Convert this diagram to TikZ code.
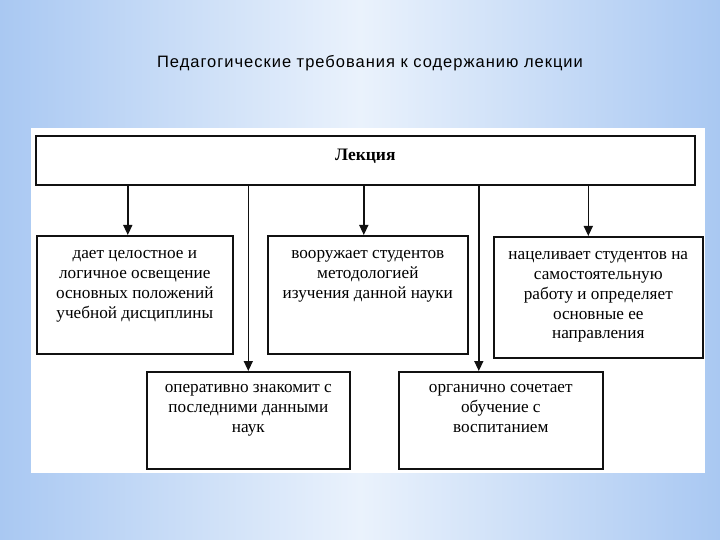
\documentclass[tikz,border=0pt]{standalone}
\usepackage{fontspec}
\setmainfont{Liberation Serif}
\newfontfamily\titlefont[LetterSpace=6]{Liberation Sans}
\usetikzlibrary{arrows.meta,positioning}
\definecolor{slideedge}{HTML}{A9C8F2}
\definecolor{slidemid}{HTML}{EAF2FC}
\definecolor{ink}{HTML}{111111}
\newcommand{\boxtext}[4][9bp]{\parbox[c][#3][t]{#2}{\centering\vspace*{#1}\strut#4}}
\tikzset{
    every picture/.style={line join=miter},
    mainbox/.style={draw=ink,fill=white,line width=1.6bp,inner sep=0pt,
      anchor=north west,font=\fontsize{17.5bp}{20bp}\selectfont\bfseries},
    reqbox/.style={draw=ink,fill=white,line width=1.6bp,inner sep=0pt,
      anchor=north west,font=\fontsize{17.2bp}{19.8bp}\selectfont},
    flowarrow/.style={-{Triangle[length=10bp,width=9bp]},draw=ink,
      line width=1.4bp},
    flowline/.style={draw=ink,line width=1.4bp}
}
\begin{document}
\begin{tikzpicture}[x=1bp,y=-1bp]
  \useasboundingbox (0,0) rectangle (720,540);
  % slide background
  \shade[left color=slideedge,right color=slideedge,middle color=slidemid]
    (0,0) rectangle (720,540);
  \node[font=\titlefont\fontsize{16.5bp}{19bp}\selectfont] (title) at (370,63)
    {Педагогические требования к содержанию лекции};
  \fill[white] (31,128) rectangle (705,473);

  % boxes
  \node[mainbox,minimum width=659bp,minimum height=49bp] (lecture) at (35,135)
    {\boxtext[11bp]{659bp}{49bp}{Лекция}};
  \node[reqbox,minimum width=196bp,minimum height=118bp] (whole) at (36,235)
    {\boxtext{196bp}{118bp}{дает целостное и\\логичное освещение\\основных положений\\учебной дисциплины}};
  \node[reqbox,minimum width=200bp,minimum height=118bp] (method) at (267,235)
    {\boxtext{200bp}{118bp}{вооружает студентов\\методологией\\изучения данной науки}};
  \node[reqbox,minimum width=209bp,minimum height=121bp] (selfwork) at (493,236)
    {\boxtext{209bp}{121bp}{нацеливает студентов на\\самостоятельную\\работу и определяет\\основные ее\\направления}};
  \node[reqbox,minimum width=203bp,minimum height=97bp] (newdata) at (146,371)
    {\boxtext[7bp]{203bp}{97bp}{оперативно знакомит с\\последними данными\\наук}};
  \node[reqbox,minimum width=204bp,minimum height=97bp] (upbring) at (398,371)
    {\boxtext[7bp]{204bp}{97bp}{органично сочетает\\обучение с\\воспитанием}};

  % connectors
  \draw[flowarrow] ([xshift=-7bp]whole.north |- lecture.south) -- ([xshift=-7bp]whole.north);
  \draw[flowarrow] ([xshift=-4bp]method.north |- lecture.south) -- ([xshift=-4bp]method.north);
  \draw[flowarrow] ([xshift=-10bp]selfwork.north |- lecture.south) -- ([xshift=-10bp]selfwork.north);
  \draw[flowarrow] (newdata.north |- lecture.south) -- (newdata.north);
  \draw[flowarrow] ([xshift=-22bp]upbring.north |- lecture.south) -- ([xshift=-22bp]upbring.north);
\end{tikzpicture}
\end{document}
